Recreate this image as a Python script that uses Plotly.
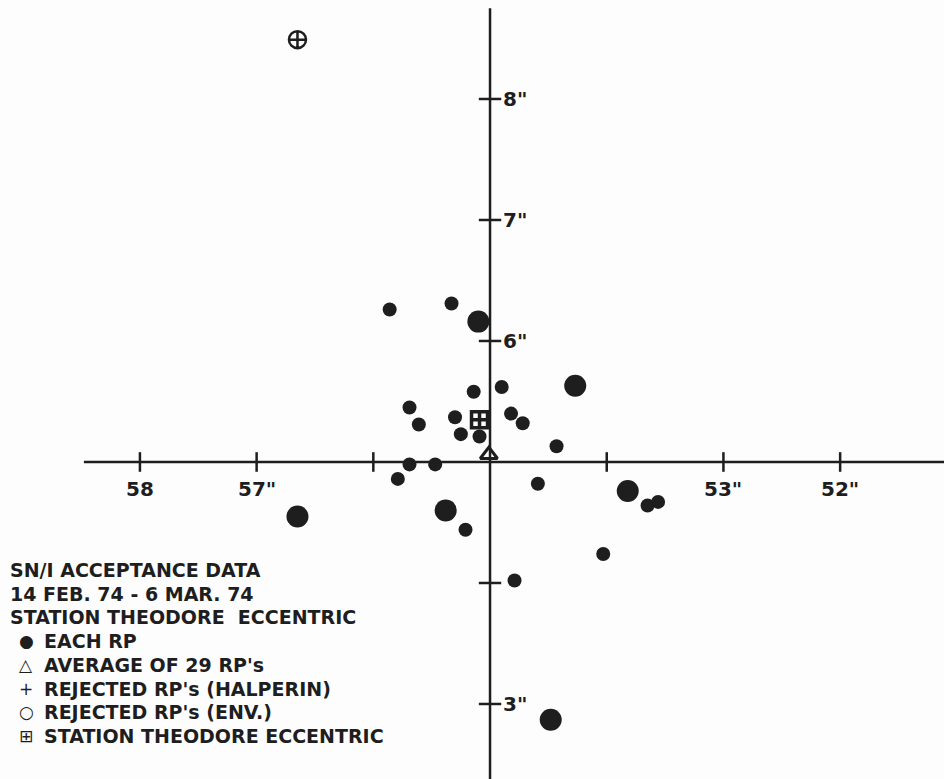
import plotly.graph_objects as go

W, H = 944, 779
INK = "#1e1e1e"
FONT = "DejaVu Sans"

# ---- data (x: seconds, reversed; y: arcseconds) ----
rp_small_x = [55.86, 55.33, 54.90, 55.14, 55.69, 55.61, 55.30, 55.25, 55.09, 54.82,
              54.72, 54.43, 55.69, 55.47, 55.79, 54.59, 55.21, 53.65, 53.56, 54.03, 54.79]
rp_small_y = [6.26, 6.31, 5.62, 5.58, 5.45, 5.31, 5.37, 5.23, 5.21, 5.40,
              5.32, 5.13, 4.98, 4.98, 4.86, 4.82, 4.44, 4.64, 4.67, 4.24, 4.02]
rp_large_x = [55.10, 54.27, 53.82, 55.38, 56.65, 54.48]
rp_large_y = [6.16, 5.63, 4.76, 4.60, 4.55, 2.87]
avg_x, avg_y = [55.01], [5.06]
station_x, station_y = [55.09], [5.35]
mark_x, mark_y = [56.65], [8.49]

axis_x0, axis_y0 = 55, 5
x_tick_vals = [58, 57, 56, 54, 53, 52]
x_tick_text = ["58", "57\"", "", "", "53\"", "52\""]
y_tick_vals = [8, 7, 6, 4, 3]
y_tick_text = ["8\"", "7\"", "6\"", "", "3\""]

legend_header = ["SN/I ACCEPTANCE DATA", "14 FEB. 74 - 6 MAR. 74", "STATION THEODORE  ECCENTRIC"]
legend_symbols = ["\u25CF", "\u25B3", "+", "\u25CB", "\u229E"]
legend_labels = ["EACH RP", "AVERAGE OF 29 RP's", "REJECTED RP's (HALPERIN)",
                 "REJECTED RP's (ENV.)", "STATION THEODORE ECCENTRIC"]

x_range = [59.199, 51.110]
y_range = [2.380, 8.818]

fig = go.Figure()

# axis lines
fig.add_shape(type="line", x0=58.48, x1=x_range[1], y0=axis_y0, y1=axis_y0,
              line=dict(color=INK, width=2.5))
fig.add_shape(type="line", x0=axis_x0, x1=axis_x0, y0=8.75, y1=y_range[0],
              line=dict(color=INK, width=2.5))

# tick crosses
fig.add_trace(go.Scatter(x=x_tick_vals, y=[axis_y0] * len(x_tick_vals), mode="markers",
                         marker=dict(symbol="line-ns", size=14, line=dict(color=INK, width=2.5)),
                         hoverinfo="skip"))
fig.add_trace(go.Scatter(x=[axis_x0] * len(y_tick_vals), y=y_tick_vals, mode="markers",
                         marker=dict(symbol="line-ew", size=16, line=dict(color=INK, width=2.5)),
                         hoverinfo="skip"))

# data points
fig.add_trace(go.Scatter(x=rp_small_x, y=rp_small_y, mode="markers",
                         marker=dict(symbol="circle", size=14, color=INK)))
fig.add_trace(go.Scatter(x=rp_large_x, y=rp_large_y, mode="markers",
                         marker=dict(symbol="circle", size=22, color=INK)))
fig.add_trace(go.Scatter(x=avg_x, y=avg_y, mode="markers",
                         marker=dict(symbol="triangle-up", size=15, color="#fdfdfd",
                                     line=dict(color=INK, width=3))))
fig.add_trace(go.Scatter(x=station_x, y=station_y, mode="markers",
                         marker=dict(symbol="square-cross-open", size=16, color=INK,
                                     line=dict(color=INK, width=3.5))))
fig.add_trace(go.Scatter(x=mark_x, y=mark_y, mode="markers",
                         marker=dict(symbol="circle-cross-open", size=17, color=INK,
                                     line=dict(color=INK, width=2.5))))

# tick labels
for v, t in zip(x_tick_vals, x_tick_text):
    if t:
        fig.add_annotation(x=v, y=axis_y0, text=t, showarrow=False, yshift=-27,
                           xanchor="center", yanchor="middle",
                           font=dict(family=FONT, size=20, color=INK, weight="bold"))
for v, t in zip(y_tick_vals, y_tick_text):
    if t:
        fig.add_annotation(x=axis_x0, y=v, text=t, showarrow=False, xshift=11,
                           xanchor="left", yanchor="middle",
                           font=dict(family=FONT, size=20, color=INK, weight="bold"))

# text legend block
row_y0, row_dy = 570, 23.7
for i, line in enumerate(legend_header):
    fig.add_annotation(xref="paper", yref="paper", x=8 / W, y=1 - (row_y0 + i * row_dy) / H,
                       text=line, showarrow=False, xanchor="left", yanchor="middle",
                       font=dict(family=FONT, size=19, color=INK, weight="bold"))
for j, (s, line) in enumerate(zip(legend_symbols, legend_labels)):
    yy = 1 - (row_y0 + (j + 3) * row_dy) / H
    fig.add_annotation(xref="paper", yref="paper", x=26 / W, y=yy, text=s, showarrow=False,
                       xanchor="center", yanchor="middle",
                       font=dict(family=FONT, size=17, color=INK))
    fig.add_annotation(xref="paper", yref="paper", x=42 / W, y=yy, text=line, showarrow=False,
                       xanchor="left", yanchor="middle",
                       font=dict(family=FONT, size=19, color=INK, weight="bold"))

fig.update_layout(
    width=W, height=H, margin=dict(l=0, r=0, t=0, b=0),
    paper_bgcolor="#fdfdfd", plot_bgcolor="#fdfdfd", showlegend=False,
    xaxis=dict(range=x_range, visible=False, showgrid=False, zeroline=False),
    yaxis=dict(range=y_range, visible=False, showgrid=False, zeroline=False),
)

fig.write_html("out.html", config={"displayModeBar": False},
               post_script="document.body.style.margin='0';")
